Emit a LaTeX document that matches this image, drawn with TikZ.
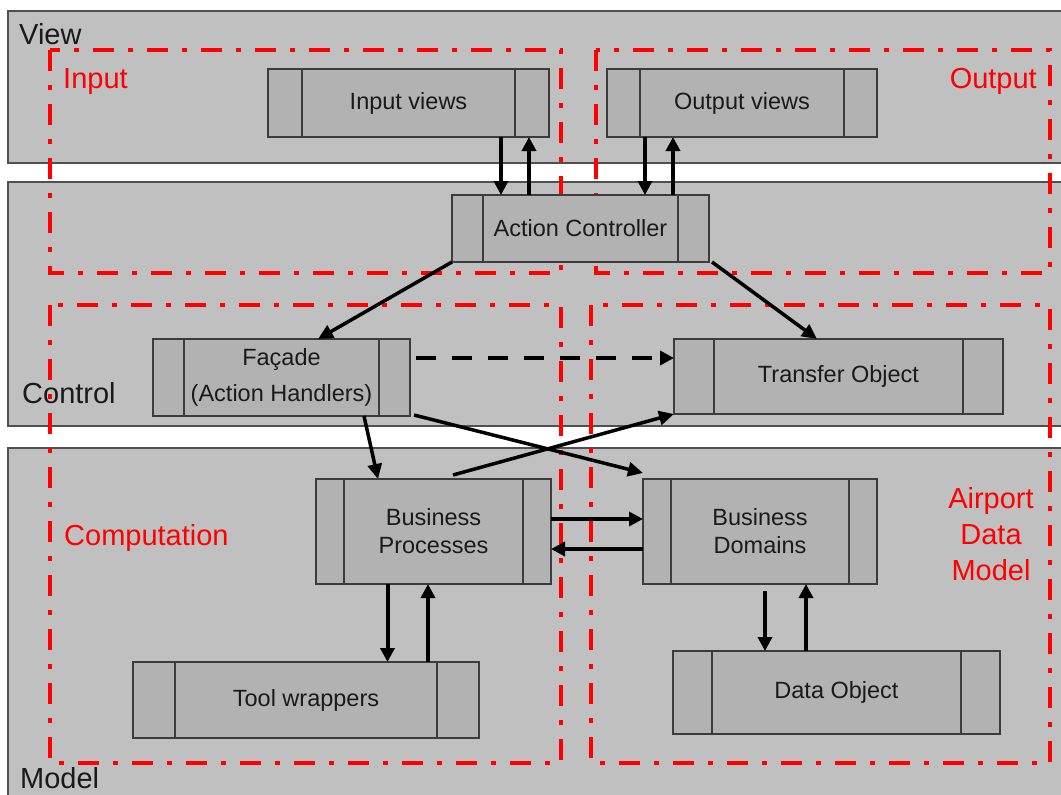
\documentclass[tikz,border=0pt]{standalone}
\usepackage{fontspec}
\setmainfont{Liberation Sans}
\usetikzlibrary{arrows.meta,calc}
\definecolor{layergray}{HTML}{C0C0C0}
\definecolor{boxgray}{HTML}{B2B2B2}
\definecolor{layeredge}{HTML}{505050}
\definecolor{boxedge}{HTML}{3C3C3C}
\definecolor{labeltext}{HTML}{1A1A1A}
\begin{document}
\begin{tikzpicture}[x=1pt,y=-1pt,
  layer/.style={fill=layergray,draw=layeredge,line width=1.5pt},
  zone/.style={draw=red,line width=4pt,dash pattern=on 21pt off 14pt on 5pt off 14pt},
  layerlabel/.style={font=\fontsize{29}{34}\selectfont,text=labeltext,inner sep=0pt,anchor=base west},
  zonelabel/.style={font=\fontsize{29}{36}\selectfont,text=red,inner sep=0pt},
  tribox/.style={draw=boxedge,fill=boxgray,line width=1.5pt,inner sep=0pt,outer sep=0pt,
    align=center,text=labeltext,font=\fontsize{23.5}{28}\selectfont,
    path picture={\draw[line width=1.2pt,draw=boxedge]
      ([xshift=#1]path picture bounding box.north west) -- ([xshift=#1]path picture bounding box.south west)
      ([xshift=-#1]path picture bounding box.north east) -- ([xshift=-#1]path picture bounding box.south east);}},
  flow/.style={line width=4pt,-{Triangle[length=14pt,width=14pt]}},
  link/.style={line width=3.5pt,-{Triangle[length=15pt,width=14pt]}},
  dashflow/.style={line width=4pt,dash pattern=on 20pt off 16pt,-{Triangle[length=14pt,width=14pt]}}
]
\useasboundingbox (0,0) rectangle (1061,795);
\clip (0,0) rectangle (1061,795);
\fill[white] (0,0) rectangle (1061,795);

% layers
\draw[layer] (8,11) rectangle (1075,163);
\draw[layer] (8,182) rectangle (1075,426);
\draw[layer] (8,448) rectangle (1075,810);
\node[layerlabel] (viewlbl) at (19,45) {View};
\node[layerlabel] (controllbl) at (22,403) {Control};
\node[layerlabel] (modellbl) at (20,788) {Model};

% dash-dot zones
\draw[zone] (50,50) rectangle (561,273);
\draw[zone] (596,50) rectangle (1050,273);
\draw[zone] (50,305) rectangle (561,763);
\draw[zone] (591,305) rectangle (1050,763);
\node[zonelabel,anchor=base west] (inputlbl) at (63,88) {Input};
\node[zonelabel,anchor=base east] (outputlbl) at (1037,88) {Output};
\node[zonelabel,anchor=base west] (complbl) at (64,545) {Computation};
\node[zonelabel,anchor=base,align=center] (admlbl) at (991,580) {Airport\\Data\\Model};

% components
\node[tribox=34pt,minimum width=281pt,minimum height=68pt] (iv) at (408.5,103) {Input views};
\node[tribox=33pt,minimum width=270pt,minimum height=68pt] (ov) at (742,103) {Output views};
\node[tribox=31pt,minimum width=257pt,minimum height=67pt] (ac) at (580.5,228.5) {Action Controller};
\node[tribox=31pt,minimum width=257pt,minimum height=77pt,font=\fontsize{23.5}{36}\selectfont] (fa) at (281.5,377.5) {Façade\\(Action Handlers)};
\node[tribox=40pt,minimum width=329pt,minimum height=75pt] (to) at (838.5,376.5) {Transfer Object};
\node[tribox=28pt,minimum width=235pt,minimum height=105pt] (bp) at (433.5,531.5) {Business\\Processes};
\node[tribox=28pt,minimum width=234pt,minimum height=105pt] (bd) at (760,531.5) {Business\\Domains};
\node[tribox=42pt,minimum width=346pt,minimum height=76pt] (tw) at (306,700) {Tool wrappers};
\node[tribox=39pt,minimum width=327pt,minimum height=83pt] (do) at (836.5,692.5) {Data Object};

% connectors
\draw[flow] ([xshift=92.5pt]iv.south) -- ([xshift=92.5pt]iv.south |- ac.north);
\draw[flow] ([xshift=120.5pt]iv.south |- ac.north) -- ([xshift=120.5pt]iv.south);
\draw[flow] ([xshift=-97pt]ov.south) -- ([xshift=-97pt]ov.south |- ac.north);
\draw[flow] ([xshift=-69pt]ov.south |- ac.north) -- ([xshift=-69pt]ov.south);
\draw[link] (ac.south west) -- ([xshift=36.5pt]fa.north);
\draw[link] ([xshift=3pt]ac.south east) -- ([xshift=-21.5pt]to.north);
\draw[dashflow] ([xshift=6pt,yshift=19.5pt]fa.east) -- ([yshift=19.5pt]fa.east -| to.west);
\draw[link] ([xshift=82.5pt]fa.south) -- ([xshift=-55.5pt]bp.north);
\draw[link] ([xshift=4pt,yshift=1pt]fa.south east) -- ([yshift=6pt]bd.north west);
\draw[link] ([xshift=19.5pt,yshift=4pt]bp.north) -- (to.south west);
\draw[flow] ([yshift=12.5pt]bp.east) -- ([yshift=12.5pt]bp.east -| bd.west);
\draw[flow] ([yshift=-17.5pt]bd.west) -- ([yshift=-17.5pt]bd.west -| bp.east);
\draw[flow] ([xshift=-46pt]bp.south) -- ([xshift=-46pt]bp.south |- tw.north);
\draw[flow] ([xshift=-5.5pt]bp.south |- tw.north) -- ([xshift=-5.5pt]bp.south);
\draw[flow] ([xshift=5pt,yshift=-7pt]bd.south) -- ([xshift=5pt]bd.south |- do.north);
\draw[flow] ([xshift=46pt]bd.south |- do.north) -- ([xshift=46pt]bd.south);
\end{tikzpicture}
\end{document}
